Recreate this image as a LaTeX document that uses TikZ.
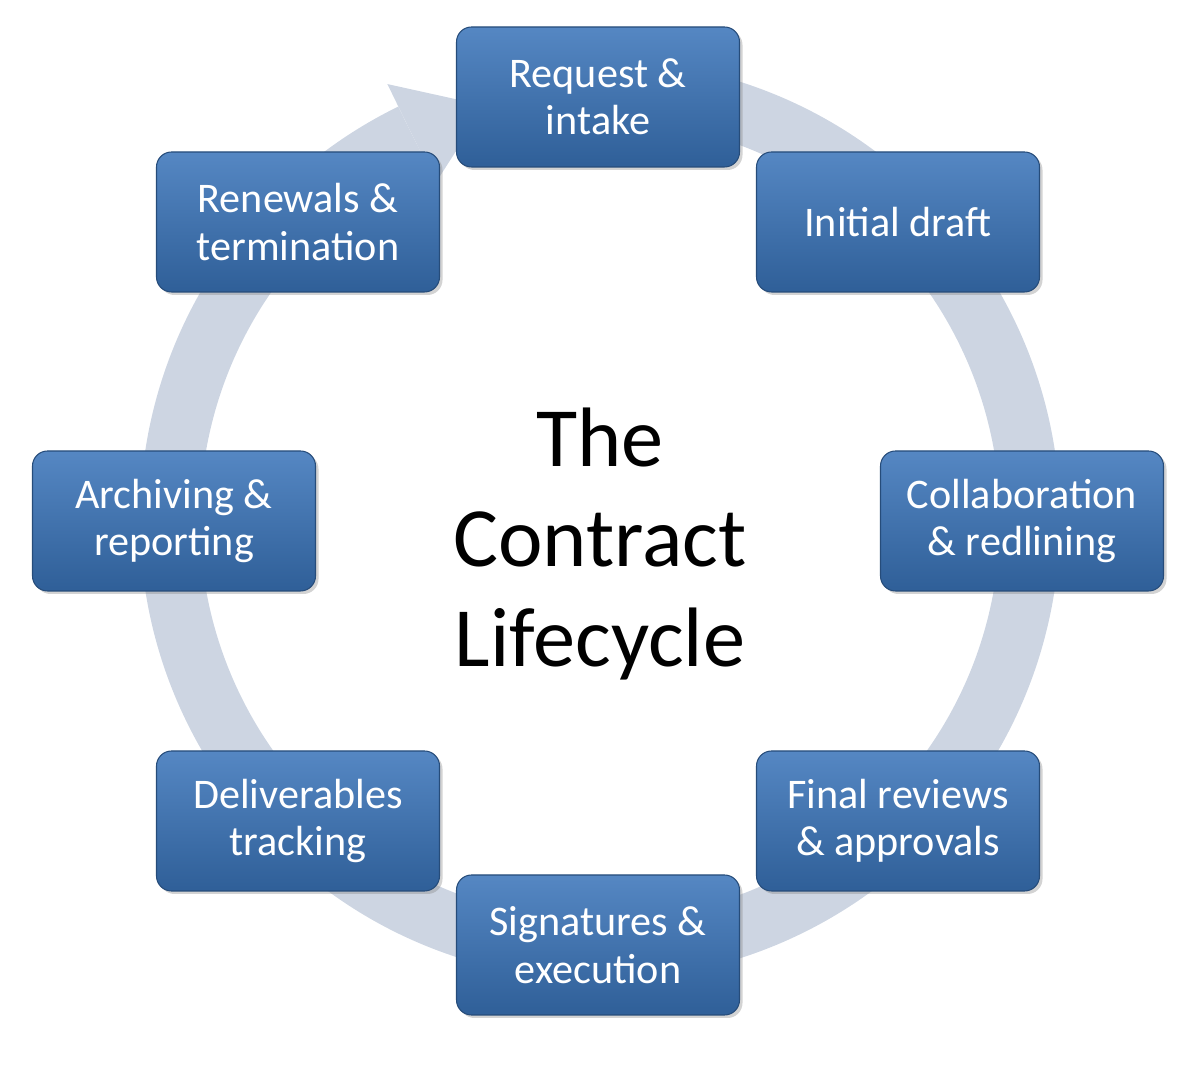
\documentclass[tikz,border=0pt]{standalone}
\usepackage{fontspec}
\setmainfont{Carlito}
\usetikzlibrary{positioning, shadows, arrows.meta, calc}
\definecolor{ringblue}{HTML}{CDD5E2}
\definecolor{boxtop}{HTML}{5587C3}
\definecolor{boxbot}{HTML}{2F5F98}
\tikzset{
  stage/.style={rectangle, rounded corners=3mm, minimum width=5.66cm, minimum height=2.8cm,
    top color=boxtop, bottom color=boxbot, draw=boxbot!80!black, line width=0.6pt,
    text=white, align=center, font=\fontsize{24}{27}\selectfont,
    drop shadow={shadow xshift=0.6mm, shadow yshift=-0.6mm, opacity=0.35}}
}
\begin{document}
\begin{tikzpicture}
		\useasboundingbox (0,0) rectangle (23.96,21.48);
		% Ring
		\coordinate (c) at (12,11.08);
		\draw[ringblue, line width=1.2cm] ($(c)+(80:8.6)$) arc[start angle=80, end angle=-244, radius=8.6];
		\fill[ringblue] ($(c)+(116:7.5)$) -- ($(c)+(105.5:8.6)$) -- ($(c)+(116:9.7)$) -- cycle;
		% Nodes
		\node[stage] (request) at (11.96,19.54) {Request \&\\intake};
		\node[stage] (draft) at (17.96,17.04) {Initial draft};
		\node[stage] (collab) at (20.44,11.06) {Collaboration\\\& redlining};
		\node[stage] (final) at (17.96,5.06) {Final reviews\\\& approvals};
		\node[stage] (sign) at (11.96,2.58) {Signatures \&\\execution};
		\node[stage] (deliver) at (5.96,5.06) {Deliverables\\tracking};
		\node[stage] (archive) at (3.48,11.06) {Archiving \&\\reporting};
		\node[stage] (renew) at (5.96,17.04) {Renewals \&\\termination};
		% Title
		\node[align=center, font=\fontsize{48}{57}\selectfont] (title) at (12,10.6) {The\\Contract\\Lifecycle};
	\end{tikzpicture}
\end{document}
